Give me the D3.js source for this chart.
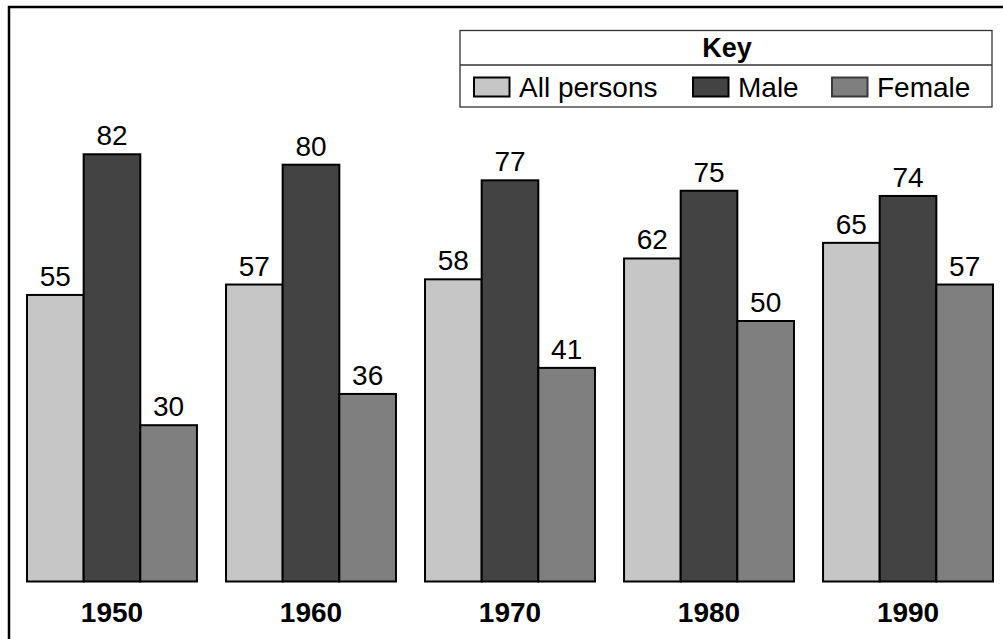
<!DOCTYPE html>
<html>
<head>
<meta charset="utf-8">
<script src="https://cdnjs.cloudflare.com/ajax/libs/d3/7.8.5/d3.min.js"></script>
<style>
    body { margin: 0; background: #fff; }
    svg { display: block; font-family: "Liberation Sans", Arial, sans-serif; }
</style>
</head>
<body>
<div id="chart"></div>
<script>
var years = ["1950", "1960", "1970", "1980", "1990"];
var seriesNames = ["All persons", "Male", "Female"];
var allPersons = [55, 57, 58, 62, 65];
var male = [82, 80, 77, 75, 74];
var female = [30, 36, 41, 50, 57];

var width = 1003,
    height = 639;

var colours = {
    "All persons": "#c6c6c6",
    "Male": "#434343",
    "Female": "#7f7f7f"
};

var svg = d3.select("#chart")
    .append("svg")
    .attr("width", width)
    .attr("height", height);

// outer frame (right and bottom run off the picture)
svg.append("rect")
    .attr("x", 9)
    .attr("y", 7)
    .attr("width", 1020)
    .attr("height", 660)
    .style("fill", "none")
    .style("stroke", "#000")
    .style("stroke-width", 2.5);

var data = years.map(function(y, i) {
    return { year: y, values: [allPersons[i], male[i], female[i]] };
});

var x0 = d3.scaleBand()
    .domain(years)
    .range([27, 993])
    .paddingInner(0.146)
    .paddingOuter(0);

var x1 = d3.scaleBand()
    .domain(seriesNames)
    .range([0, x0.bandwidth()]);

var y = d3.scaleLinear()
    .domain([0, 100])
    .range([581.5, 60.5]);

var groups = svg.selectAll(".group")
    .data(data)
    .enter().append("g")
    .attr("class", "group")
    .attr("transform", function(d) { return "translate(" + x0(d.year) + ",0)"; });

groups.selectAll("rect")
    .data(function(d) {
        return seriesNames.map(function(s, j) { return { key: s, value: d.values[j] }; });
    })
    .enter().append("rect")
    .attr("x", function(d) { return x1(d.key); })
    .attr("y", function(d) { return y(d.value); })
    .attr("width", x1.bandwidth())
    .attr("height", function(d) { return y(0) - y(d.value); })
    .style("fill", function(d) { return colours[d.key]; })
    .style("stroke", "#000")
    .style("stroke-width", 2);

groups.selectAll(".bar-label")
    .data(function(d) {
        return seriesNames.map(function(s, j) { return { key: s, value: d.values[j] }; });
    })
    .enter().append("text")
    .attr("class", "bar-label")
    .attr("x", function(d) { return x1(d.key) + x1.bandwidth() / 2; })
    .attr("y", function(d) { return y(d.value) - 9; })
    .attr("text-anchor", "middle")
    .style("font-size", "28px")
    .style("fill", "#000")
    .text(function(d) { return d.value; });

// year labels under each group
var xAxis = d3.axisBottom(x0).tickSize(0).tickPadding(0);
var gX = svg.append("g")
    .attr("transform", "translate(0," + 621.5 + ")")
    .call(xAxis);
gX.select(".domain").remove();
gX.selectAll(".tick text")
    .attr("dy", 0)
    .attr("y", 0)
    .style("font-family", "Liberation Sans, Arial, sans-serif")
    .style("font-size", "28px")
    .style("font-weight", "bold")
    .style("fill", "#000");

// key
var legend = svg.append("g").attr("class", "legend");
legend.append("rect")
    .attr("x", 460)
    .attr("y", 30.5)
    .attr("width", 532)
    .attr("height", 76.5)
    .style("fill", "#fff")
    .style("stroke", "#333")
    .style("stroke-width", 1.3);
legend.append("line")
    .attr("x1", 460).attr("x2", 992)
    .attr("y1", 65).attr("y2", 65)
    .style("stroke", "#333")
    .style("stroke-width", 1.3);
legend.append("text")
    .attr("x", 727)
    .attr("y", 57)
    .attr("text-anchor", "middle")
    .style("font-size", "27px")
    .style("font-weight", "bold")
    .text("Key");

var legendX = [474, 693, 832];
var legendItem = legend.selectAll(".item")
    .data(seriesNames)
    .enter().append("g")
    .attr("class", "item")
    .attr("transform", function(d, i) { return "translate(" + legendX[i] + ",0)"; });
legendItem.append("rect")
    .attr("x", 0)
    .attr("y", 77.5)
    .attr("width", 35.5)
    .attr("height", 19)
    .style("fill", function(d) { return colours[d]; })
    .style("stroke", function(d) { return d == "Female" ? "#3a3a3a" : "#000"; })
    .style("stroke-width", 2);
legendItem.append("text")
    .attr("x", 45)
    .attr("y", 97)
    .style("font-size", "28px")
    .text(function(d) { return d; });
</script>
</body>
</html>
